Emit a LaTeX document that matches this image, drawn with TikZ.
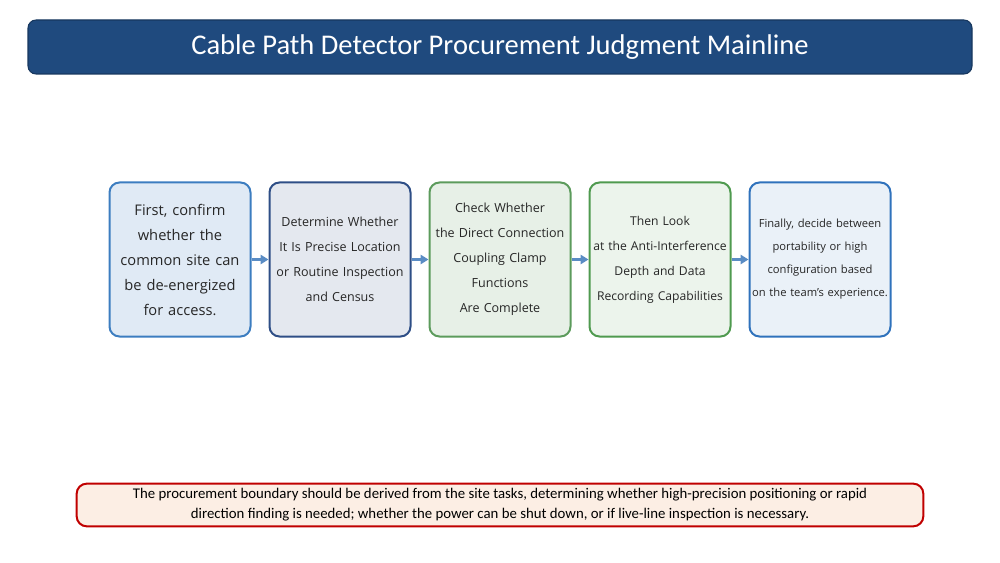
\documentclass[tikz,border=0pt]{standalone}
\usepackage{fontspec}
\setmainfont{Open Sans}
\newfontfamily\titlefont{Carlito}
\usetikzlibrary{arrows.meta,positioning}

\definecolor{titleblue}{HTML}{1F4A7E}
\definecolor{titleedge}{HTML}{17375E}
\definecolor{stepblue}{HTML}{3C7DC0}
\definecolor{stepnavy}{HTML}{2E4E86}
\definecolor{stepgreen}{HTML}{5C9B5C}
\definecolor{stepleaf}{HTML}{4F9A4F}
\definecolor{stepsky}{HTML}{2F72BC}
\definecolor{flowarrow}{HTML}{5A8CC4}
\definecolor{noteedge}{HTML}{C00000}
\definecolor{notefill}{HTML}{FCEEE4}
\definecolor{stepink}{HTML}{262626}

\begin{document}
\begin{tikzpicture}[
  x=0.75pt, y=-0.75pt,
  node distance=12.75pt,
  banner/.style={
    draw=titleedge,
    fill=titleblue,
    rounded corners=6pt,
    line width=0.8pt,
    minimum width=708pt,
    minimum height=40.5pt,
    text=white,
    font=\titlefont\fontsize{21.4}{24}\selectfont
  },
  stepbox/.style={
    draw,
    line width=1.5pt,
    rounded corners=7.5pt,
    minimum width=105.75pt,
    minimum height=115.5pt,
    text width=104.5pt,
    inner sep=0.5pt,
    align=center,
    text=stepink
  },
  flow/.style={
    -{Triangle[length=6pt,width=7pt]},
    line width=1.6pt,
    draw=flowarrow
  },
  notebox/.style={
    draw=noteedge,
    fill=notefill,
    line width=1.5pt,
    rounded corners=7.5pt,
    minimum width=635pt,
    minimum height=32pt,
    align=center,
    text=black,
    font=\titlefont\fontsize{11.1}{15}\selectfont
  }
]
\useasboundingbox (0,0) rectangle (1000,563);

% Nodes
\node[banner] (title) at (500,47) {Cable Path Detector Procurement Judgment Mainline};

\node[stepbox, draw=stepblue, fill=stepblue!16!white,
  font=\fontsize{11}{18.75}\selectfont] (s1) at (180,259.5)
  {First, confirm\\whether the\\common site can\\be de-energized\\for access.};
\node[stepbox, draw=stepnavy, fill=stepnavy!13!white,
  font=\fontsize{9.4}{18.75}\selectfont, right=of s1] (s2)
  {Determine Whether\\It Is Precise Location\\or Routine Inspection\\and Census};
\node[stepbox, draw=stepgreen, fill=stepgreen!15!white,
  font=\fontsize{9.4}{18.75}\selectfont, right=of s2] (s3)
  {Check Whether\\the Direct Connection\\Coupling Clamp\\Functions\\Are Complete};
\node[stepbox, draw=stepleaf, fill=stepleaf!11!white,
  font=\fontsize{9.1}{18.75}\selectfont, right=of s3] (s4)
  {Then Look\\at the Anti-Interference\\Depth and Data\\Recording Capabilities};
\node[stepbox, draw=stepsky, fill=stepsky!10!white,
  font=\fontsize{8.4}{17.25}\selectfont, right=of s4] (s5)
  {Finally, decide between\\portability or high\\configuration based\\on the team's experience.};

\node[notebox] (note) at (500,505)
  {The procurement boundary should be derived from the site tasks, determining whether high-precision positioning or rapid\\
   direction finding is needed; whether the power can be shut down, or if live-line inspection is necessary.};

% Arrows
\draw[flow] (s1.east) -- (s2.west);
\draw[flow] (s2.east) -- (s3.west);
\draw[flow] (s3.east) -- (s4.west);
\draw[flow] (s4.east) -- (s5.west);

\end{tikzpicture}
\end{document}
